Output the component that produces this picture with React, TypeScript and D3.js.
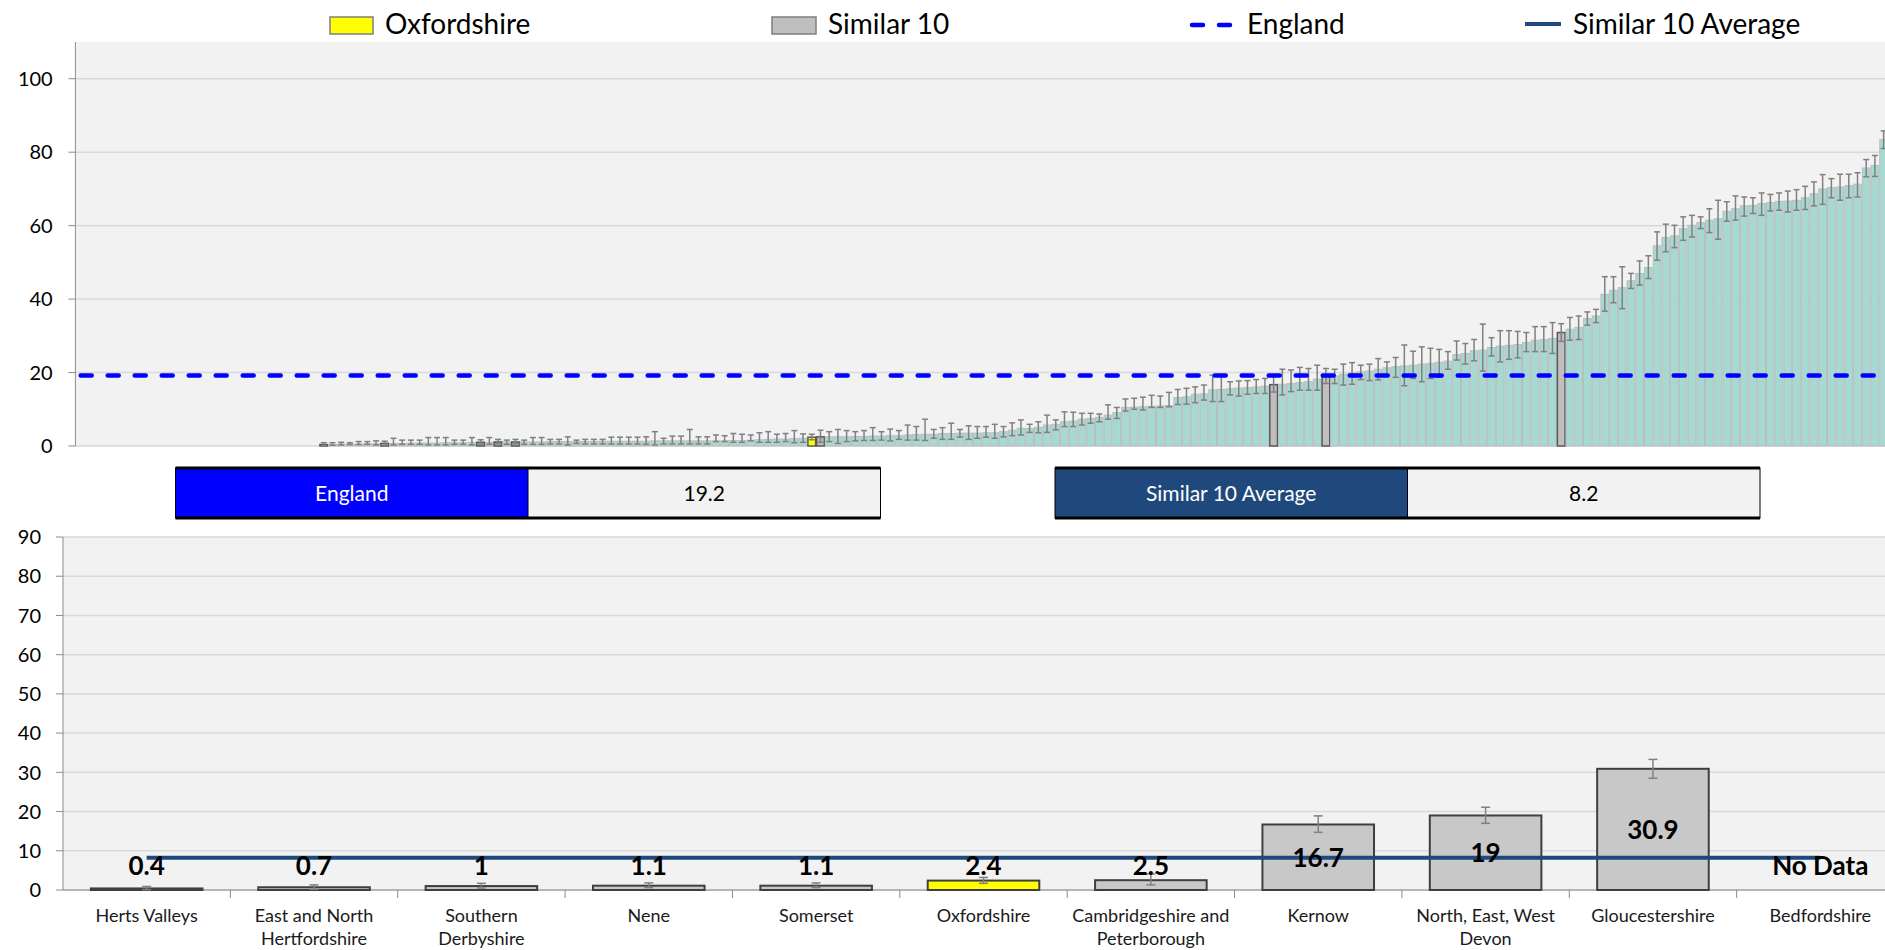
import * as d3 from "d3";

const W = 1885;
const H = 950;
const FONT = "Lato, 'Open Sans', sans-serif";

// ranked CCG rates (ascending); the first CCGs in the ranking have no data
const noDataCount = 28;
const rankedValues = [
  0.4, 0.4, 0.5, 0.5, 0.5, 0.6, 0.6, 0.7, 0.7, 0.7,
  0.8, 0.8, 0.8, 0.8, 0.9, 0.9, 0.9, 1.0, 1.0, 1.0,
  1.1, 1.1, 1.1, 1.1, 1.1, 1.1, 1.2, 1.2, 1.2, 1.2,
  1.2, 1.2, 1.3, 1.3, 1.3, 1.3, 1.3, 1.3, 1.4, 1.4,
  1.4, 1.4, 1.4, 1.4, 1.4, 1.4, 1.4, 1.5, 1.5, 1.6,
  1.7, 1.8, 1.9, 1.9, 2.0, 2.1, 2.4, 2.5, 2.5, 2.5,
  2.5, 2.6, 2.6, 2.7, 2.7, 2.8, 2.8, 3.0, 3.1, 3.2,
  3.2, 3.4, 3.4, 3.5, 3.5, 3.5, 3.6, 3.6, 3.9, 4.3,
  4.8, 4.8, 5.1, 5.7, 5.9, 6.6, 6.8, 7.3, 7.5, 7.8,
  8.4, 9.1, 10.5, 10.6, 10.7, 10.8, 10.9, 11.0, 13.2, 13.4,
  14.1, 14.2, 15.3, 15.4, 15.6, 15.8, 15.9, 16.1, 16.3, 16.7,
  16.8, 17.0, 17.3, 17.5, 18.2, 19.0, 19.1, 19.5, 19.9, 20.2,
  20.4, 20.9, 21.3, 21.6, 21.8, 22.0, 22.3, 22.5, 22.8, 23.1,
  24.9, 25.2, 25.9, 26.1, 26.8, 27.2, 27.4, 27.6, 28.2, 28.8,
  29.0, 29.3, 30.9, 31.8, 32.3, 34.7, 35.4, 41.3, 42.4, 43.1,
  45.0, 47.0, 48.6, 54.5, 56.8, 57.2, 59.2, 60.1, 60.8, 61.5,
  61.9, 63.9, 64.6, 65.4, 65.5, 66.0, 66.3, 66.6, 66.7, 66.9,
  67.6, 68.7, 70.0, 70.4, 70.5, 70.9, 71.3, 75.7, 76.4, 83.4,
];
const rankedLower = [
  0.1, 0.2, 0.3, 0.4, 0.4, 0.45, 0.3, 0.2, 0.3, 0.45,
  0.45, 0.45, 0.3, 0.3, 0.3, 0.45, 0.45, 0.3, 0.5, 0.45,
  0.6, 0.45, 0.6, 0.45, 0.45, 0.45, 0.55, 0.55, 0.3, 0.7,
  0.55, 0.55, 0.55, 0.55, 0.55, 0.55, 0.55, 0.45, 0.3, 0.55,
  0.55, 0.55, 0.55, 0.55, 0.55, 1.2, 1.2, 1.0, 1.0, 1.4,
  1.0, 1.0, 1.0, 1.2, 0.9, 1.0, 1.7, 1.0, 1.2, 0.7,
  1.2, 1.4, 1.5, 1.5, 1.6, 1.4, 1.8, 1.6, 1.6, 1.5,
  2.1, 1.8, 1.8, 2.4, 1.8, 2.1, 2.4, 2.1, 2.5, 2.8,
  3.0, 3.7, 3.6, 3.7, 4.4, 5.3, 5.3, 5.7, 6.2, 6.6,
  7.3, 7.5, 9.5, 10.0, 9.8, 10.5, 10.5, 10.7, 11.3, 11.4,
  11.8, 12.5, 12.1, 12.1, 13.9, 13.6, 14.1, 14.3, 14.3, 14.7,
  13.9, 14.8, 15.2, 15.2, 15.2, 17.0, 17.0, 16.6, 16.8, 18.1,
  17.8, 18.0, 19.3, 18.7, 16.4, 18.4, 17.5, 18.4, 18.7, 20.9,
  23.4, 22.3, 23.2, 20.4, 24.5, 22.9, 23.6, 24.0, 25.7, 25.7,
  25.7, 25.2, 28.5, 28.8, 29.0, 32.9, 33.6, 36.7, 39.0, 37.4,
  42.9, 43.8, 45.6, 50.6, 52.9, 54.0, 56.0, 56.9, 59.2, 58.1,
  56.3, 61.2, 61.5, 62.6, 63.3, 62.8, 64.0, 64.2, 63.7, 64.2,
  64.4, 65.4, 65.8, 67.6, 66.9, 67.6, 67.8, 73.3, 73.4, 81.0,
];
const rankedUpper = [
  0.9, 0.9, 1.0, 0.9, 1.2, 1.2, 1.4, 1.3, 2.1, 1.6,
  1.6, 1.6, 2.3, 2.3, 2.3, 1.6, 1.6, 2.3, 1.7, 2.3,
  1.8, 1.6, 1.8, 1.6, 2.3, 2.3, 1.8, 1.8, 2.5, 1.6,
  1.8, 1.8, 1.8, 2.4, 2.4, 2.4, 2.4, 2.5, 3.9, 2.1,
  2.7, 2.7, 4.5, 2.5, 2.5, 3.0, 2.8, 3.4, 3.2, 3.0,
  3.6, 3.9, 3.2, 3.4, 4.2, 3.3, 3.2, 4.3, 3.9, 4.5,
  4.2, 3.9, 4.2, 5.0, 3.9, 4.6, 4.2, 5.7, 5.3, 7.3,
  4.5, 5.0, 6.2, 4.5, 5.5, 5.3, 5.3, 5.9, 5.3, 6.3,
  7.1, 5.9, 6.6, 8.4, 7.1, 9.3, 9.2, 8.9, 8.9, 8.7,
  11.2, 10.5, 12.8, 13.0, 13.3, 13.8, 13.6, 14.6, 15.4, 15.7,
  16.1, 16.6, 19.3, 19.3, 17.5, 17.7, 17.8, 18.1, 18.4, 18.9,
  20.9, 20.7, 21.4, 21.1, 22.0, 21.1, 20.9, 22.3, 22.7, 22.0,
  22.3, 23.8, 22.9, 24.1, 27.5, 25.8, 27.0, 26.6, 26.3, 25.7,
  28.6, 27.9, 29.0, 33.2, 29.5, 31.4, 31.4, 31.2, 30.9, 32.5,
  32.5, 33.6, 33.3, 35.0, 35.4, 36.5, 37.2, 46.1, 46.1, 48.8,
  47.0, 50.4, 51.8, 58.3, 60.4, 60.1, 62.4, 62.8, 62.4, 64.6,
  66.9, 66.5, 68.1, 67.8, 67.6, 68.9, 68.5, 68.9, 69.4, 69.8,
  70.7, 71.9, 73.9, 72.8, 74.0, 74.0, 74.4, 78.0, 79.1, 85.8,
];

// the similar 10 CCGs (bottom chart)
const categories = [
  "Herts Valleys",
  "East and North\nHertfordshire",
  "Southern\nDerbyshire",
  "Nene",
  "Somerset",
  "Oxfordshire",
  "Cambridgeshire and\nPeterborough",
  "Kernow",
  "North, East, West\nDevon",
  "Gloucestershire",
  "Bedfordshire",
];
const similarValues = [0.4, 0.7, 1, 1.1, 1.1, 2.4, 2.5, 16.7, 19, 30.9, null];
const similarLower = [0.1, 0.2, 0.5, 0.6, 0.6, 1.7, 1.3, 14.7, 17.0, 28.5, null];
const similarUpper = [0.9, 1.3, 1.7, 1.8, 1.8, 3.2, 4.1, 18.9, 21.1, 33.3, null];
// where each of them sits in the national ranking
const similarRank = [28, 35, 46, 48, 50, 84, 85, 137, 143, 170, null];
const focusName = "Oxfordshire";

const englandValue = 19.2;
const similarAverage = 8.2;

const topValues: (number | null)[] = [...Array(noDataCount).fill(null), ...rankedValues];
const topLower: (number | null)[] = [...Array(noDataCount).fill(null), ...rankedLower];
const topUpper: (number | null)[] = [...Array(noDataCount).fill(null), ...rankedUpper];

const TEAL = "#a7d9d3";
const GREY_BAR = "#c8c8c8";
const ERR = "#808080";
const GRID = "#d9d9d9";
const AXIS = "#8c8c8c";
const PLOT_BG = "#f2f2f2";
const ENGLAND_BLUE = "#0000ff";
const NAVY = "#1f497d";

function TopChart() {
  const left = 75.4;
  const top = 42;
  const bottom = 446;
  const y = d3.scaleLinear().domain([0, 110]).range([bottom, top]);
  const x = d3
    .scaleBand<number>()
    .domain(d3.range(topValues.length))
    .range([left, 1888])
    .padding(0);
  const bw = x.bandwidth();

  const highlight = new Map<number, string>();
  similarRank.forEach((r, i) => {
    if (r !== null) highlight.set(r, categories[i]);
  });

  return (
    <g>
      <rect x={left} y={top} width={W - left} height={bottom - top} fill={PLOT_BG} />
      {y.ticks(6).map((t) => (
        <g key={t}>
          <line x1={left} x2={W} y1={y(t)} y2={y(t)} stroke={GRID} strokeWidth={1.5} />
          <line x1={left - 7} x2={left} y1={y(t)} y2={y(t)} stroke={AXIS} />
          <text x={52.7} y={y(t)} dy="0.36em" textAnchor="end" fontSize={20} fill="#000">
            {t}
          </text>
        </g>
      ))}
      <line x1={left} x2={left} y1={top} y2={bottom} stroke={AXIS} />

      {topValues.map((v, i) => {
        if (v === null) return null;
        const name = highlight.get(i);
        const fill = name ? (name === focusName ? "#ffff00" : "#bfbfbf") : TEAL;
        return (
          <rect
            key={i}
            x={x(i)! + 0.5}
            y={y(v)}
            width={bw - 1}
            height={y(0) - y(v)}
            fill={fill}
            stroke={name ? "#595959" : "#bdbdbd"}
            strokeWidth={name ? 1.5 : 1}
          />
        );
      })}

      {topValues.map((v, i) => {
        const lo = topLower[i];
        const hi = topUpper[i];
        if (v === null || lo === null || hi === null) return null;
        const cx = x(i)! + bw / 2;
        return (
          <g key={i} stroke={ERR} strokeWidth={1.5}>
            <line x1={cx} x2={cx} y1={y(lo)} y2={y(hi)} />
            <line x1={cx - 3} x2={cx + 3} y1={y(lo)} y2={y(lo)} />
            <line x1={cx - 3} x2={cx + 3} y1={y(hi)} y2={y(hi)} />
          </g>
        );
      })}

      <line
        x1={left + 5.3}
        x2={W}
        y1={y(englandValue)}
        y2={y(englandValue)}
        stroke={ENGLAND_BLUE}
        strokeWidth={4.5}
        strokeDasharray="11 16"
        strokeLinecap="round"
      />
    </g>
  );
}

function Legend() {
  return (
    <g fontSize={28} fill="#000">
      <rect x={330} y={17} width={43} height={17} fill="#ffff00" stroke="#7f7f7f" strokeWidth={1.5} />
      <text x={385} y={34}>Oxfordshire</text>
      <rect x={772} y={17} width={44} height={17} fill="#bfbfbf" stroke="#7f7f7f" strokeWidth={1.5} />
      <text x={828} y={34}>Similar 10</text>
      <line x1={1192} x2={1230} y1={25} y2={25} stroke={ENGLAND_BLUE} strokeWidth={4.5} strokeDasharray="11 16" strokeLinecap="round" />
      <text x={1247} y={34}>England</text>
      <line x1={1525} x2={1561} y1={24} y2={24} stroke={NAVY} strokeWidth={4} />
      <text x={1573} y={34}>Similar 10 Average</text>
    </g>
  );
}

function ValueBox({ x0, label, value, colour }: { x0: number; label: string; value: number; colour: string }) {
  const cw = 352.5;
  const y0 = 468;
  const h = 50;
  return (
    <g fontSize={21}>
      <rect x={x0} y={y0} width={cw} height={h} fill={colour} />
      <rect x={x0 + cw} y={y0} width={cw} height={h} fill={PLOT_BG} />
      <rect x={x0} y={y0} width={cw * 2} height={h} fill="none" stroke="#000" strokeWidth={1} />
      <line x1={x0} x2={x0 + cw * 2} y1={y0} y2={y0} stroke="#000" strokeWidth={3} />
      <line x1={x0} x2={x0 + cw * 2} y1={y0 + h} y2={y0 + h} stroke="#000" strokeWidth={3} />
      <line x1={x0 + cw} x2={x0 + cw} y1={y0} y2={y0 + h} stroke="#000" strokeWidth={1} />
      <text x={x0 + cw / 2} y={y0 + h / 2} dy="0.36em" textAnchor="middle" fill="#fff">
        {label}
      </text>
      <text x={x0 + cw * 1.5} y={y0 + h / 2} dy="0.36em" textAnchor="middle" fill="#000">
        {value}
      </text>
    </g>
  );
}

function BottomChart() {
  const left = 63;
  const top = 537;
  const bottom = 890;
  const y = d3.scaleLinear().domain([0, 90]).range([bottom, top]);
  const x = d3
    .scaleBand<string>()
    .domain(categories)
    .range([left, 1904])
    .paddingInner(1 / 3)
    .paddingOuter(1 / 6);
  const bw = x.bandwidth();
  const gap = (x.step() - bw) / 2;
  const first = x(categories[0])! + bw / 2;
  const last = x(categories[categories.length - 1])! + bw / 2;

  return (
    <g>
      <rect x={left} y={top} width={W - left} height={bottom - top} fill={PLOT_BG} />
      {y.ticks(10).map((t) => (
        <g key={t}>
          <line x1={left} x2={W} y1={y(t)} y2={y(t)} stroke={GRID} strokeWidth={1.5} />
          <line x1={left - 7} x2={left} y1={y(t)} y2={y(t)} stroke={AXIS} />
          <text x={41} y={y(t)} dy="0.36em" textAnchor="end" fontSize={20} fill="#000">
            {t}
          </text>
        </g>
      ))}
      <line x1={left} x2={left} y1={top} y2={bottom} stroke={AXIS} />
      <line x1={left} x2={W} y1={bottom} y2={bottom} stroke={AXIS} />
      {categories.map((c) => (
        <line
          key={c}
          x1={x(c)! + bw + gap}
          x2={x(c)! + bw + gap}
          y1={bottom}
          y2={bottom + 8}
          stroke={AXIS}
        />
      ))}

      {categories.map((c, i) => {
        const v = similarValues[i];
        if (v === null) return null;
        return (
          <rect
            key={c}
            x={x(c)}
            y={y(v)}
            width={bw}
            height={y(0) - y(v)}
            fill={c === focusName ? "#ffff00" : GREY_BAR}
            stroke="#3f3f3f"
            strokeWidth={2}
          />
        );
      })}

      {categories.map((c, i) => {
        const lo = similarLower[i];
        const hi = similarUpper[i];
        if (lo === null || hi === null) return null;
        const cx = x(c)! + bw / 2;
        return (
          <g key={c} stroke={ERR} strokeWidth={1.5}>
            <line x1={cx} x2={cx} y1={y(lo)} y2={y(hi)} />
            <line x1={cx - 4.5} x2={cx + 4.5} y1={y(lo)} y2={y(lo)} />
            <line x1={cx - 4.5} x2={cx + 4.5} y1={y(hi)} y2={y(hi)} />
          </g>
        );
      })}

      <line
        x1={first}
        x2={last}
        y1={y(similarAverage)}
        y2={y(similarAverage)}
        stroke={NAVY}
        strokeWidth={4}
      />

      {categories.map((c, i) => {
        const v = similarValues[i];
        const mid = Math.max(v ?? 0, 12.3) / 2;
        return (
          <text
            key={c}
            x={x(c)! + bw / 2}
            y={y(mid)}
            dy="0.36em"
            textAnchor="middle"
            fontSize={26}
            fontWeight={700}
            fill="#000"
          >
            {v === null ? "No Data" : String(v)}
          </text>
        );
      })}

      {categories.map((c) => (
        <text key={c} x={x(c)! + bw / 2} y={922} textAnchor="middle" fontSize={18} fill="#1a1a1a">
          {c.split("\n").map((line, j) => (
            <tspan key={j} x={x(c)! + bw / 2} dy={j === 0 ? 0 : 23}>
              {line}
            </tspan>
          ))}
        </text>
      ))}
    </g>
  );
}

export default function App() {
  return (
    <svg
      width={W}
      height={H}
      viewBox={`0 0 ${W} ${H}`}
      style={{ position: "absolute", left: 0, top: 0, background: "#fff" }}
      fontFamily={FONT}
    >
      <Legend />
      <TopChart />
      <ValueBox x0={175.5} label="England" value={englandValue} colour={ENGLAND_BLUE} />
      <ValueBox x0={1055} label="Similar 10 Average" value={similarAverage} colour={NAVY} />
      <BottomChart />
    </svg>
  );
}
